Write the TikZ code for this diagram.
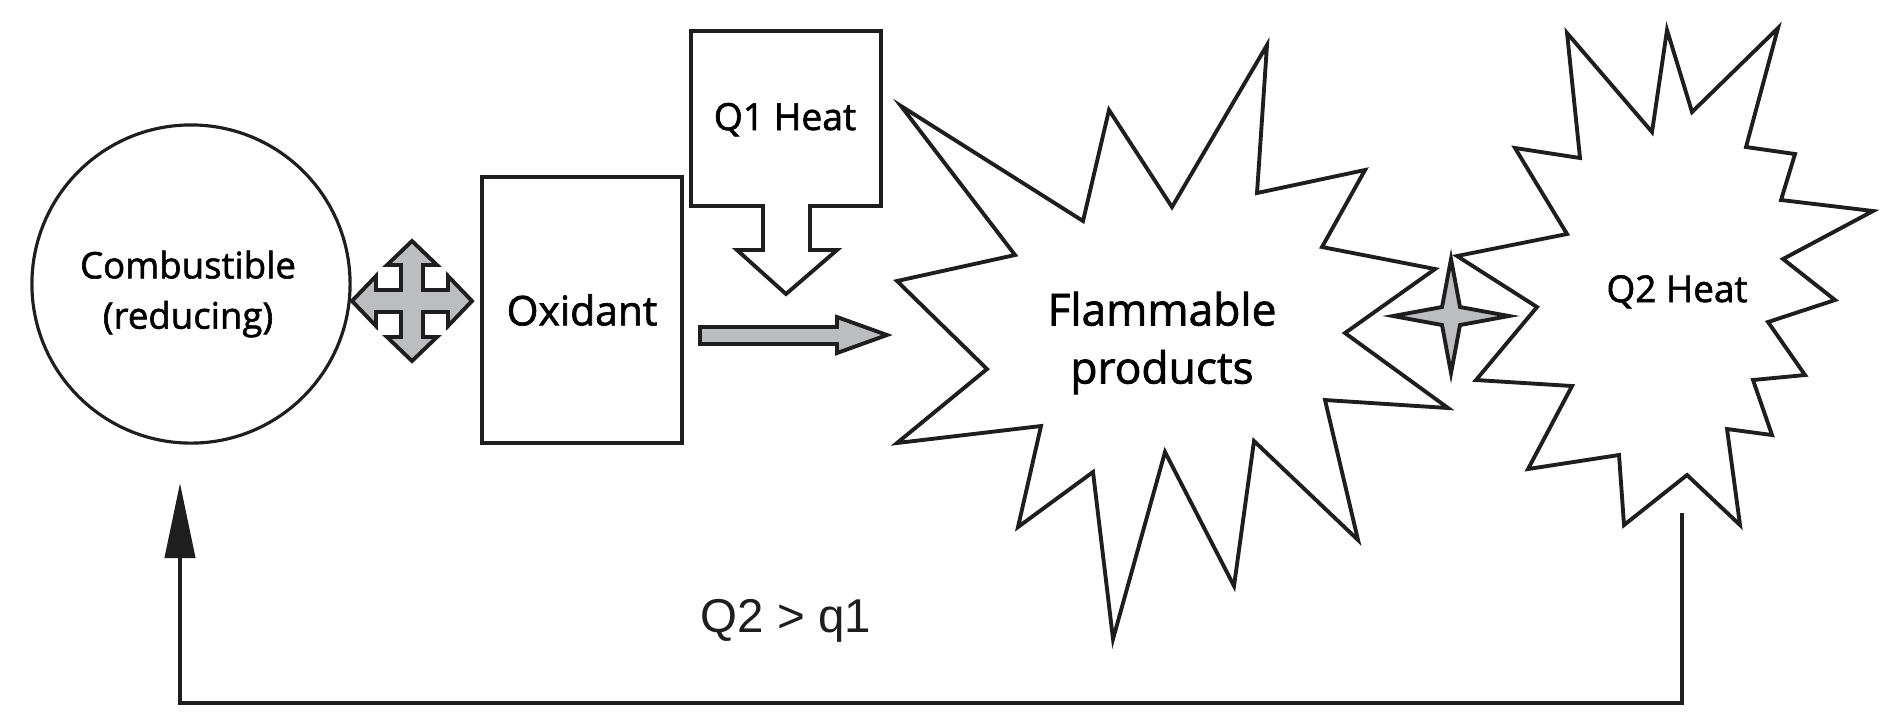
\documentclass[tikz,border=0pt]{standalone}
\usepackage{fontspec}
\setmainfont{Open Sans}
\newfontfamily\labelfont{Open Sans}[FakeBold=1.6]
\newfontfamily\ratiofont{Liberation Sans}
\definecolor{InkDark}  {RGB}{30,30,30}
\definecolor{ArrowGray}{RGB}{187,189,193}
\usetikzlibrary{arrows.meta,calc}

\begin{document}
\begin{tikzpicture}[x=0.01cm,y=-0.01cm,
    outline/.style={draw=InkDark,line width=1.1pt,line join=miter},
    blockarrow/.style={outline,fill=ArrowGray},
    burst/.style={outline,fill=white}]
  \useasboundingbox (0,0) rectangle (1889,723);

  % fuel and oxidant
  \node[draw=InkDark,line width=0.9pt,circle,minimum size=3.18cm] (comb) at (191,284) {};
  \node[font={\labelfont\fontsize{10.4}{14.3}\selectfont},align=center] (combtxt) at (188,294)
    {Combustible\\(reducing)};
  \node[outline,minimum width=2cm,minimum height=2.66cm,
        font={\labelfont\fontsize{11.6}{13}\selectfont}] (oxi) at (582,310) {Oxidant};
  \draw[blockarrow,shift={(412,301)}]
    (-60,0) -- (-36,-25) -- (-36,-11) -- (-11,-11) -- (-11,-36) -- (-25,-36) --
    (0,-60) -- (25,-36) -- (11,-36) -- (11,-11) -- (36,-11) -- (36,-25) --
    (60,0) -- (36,25) -- (36,11) -- (11,11) -- (11,36) -- (25,36) --
    (0,60) -- (-25,36) -- (-11,36) -- (-11,11) -- (-36,11) -- (-36,25) -- cycle;

  % heat Q1 with its arrow
  \draw[burst] (763,206) -- (691,206) -- (691,31) -- (881,31) -- (881,206) --
    (810,206) -- (810,250) -- (837,250) -- (786,294) -- (737,250) -- (763,250) -- cycle;
  \node[anchor=base,font={\labelfont\fontsize{10.6}{12}\selectfont}] (qone) at (785,130) {Q1 Heat};
  \draw[blockarrow] (700,327) -- (837,327) -- (837,317) -- (887,335) --
    (837,353) -- (837,344) -- (700,344) -- cycle;

  % flammable products
  \draw[burst] (901,106) -- (1083,221) -- (1109,110) -- (1172,207) -- (1267,45) --
    (1257,193) -- (1365,170) -- (1322,247) -- (1435,269) -- (1345,333) --
    (1448,408) -- (1325,400) -- (1358,540) -- (1254,441) -- (1234,586) --
    (1165,452) -- (1113,639) -- (1093,472) -- (1018,527) -- (1041,426) --
    (897,443) -- (987,369) -- (897,281) -- (1015,255) -- cycle;
  \node[font={\labelfont\fontsize{12.6}{16.5}\selectfont},align=center] (flam) at (1162,343)
    {Flammable\\products};

  % heat Q2
  \draw[burst] (1567,33) -- (1652,132) -- (1667,30) -- (1692,112) -- (1778,28) --
    (1746,147) -- (1795,154) -- (1781,200) -- (1873,211) -- (1783,259) --
    (1835,300) -- (1768,322) -- (1805,375) -- (1753,380) -- (1772,435) --
    (1727,429) -- (1740,525) -- (1687,475) -- (1624,525) -- (1619,455) --
    (1528,469) -- (1572,386) -- (1476,380) -- (1537,307) -- (1457,256) --
    (1567,234) -- (1515,148) -- (1580,158) -- cycle;
  \node[anchor=base,font={\labelfont\fontsize{10.5}{12}\selectfont}] (qtwo) at (1677,302) {Q2 Heat};
  \draw[blockarrow,shift={(1451,316)}] (-58,0) -- (-9,-9) -- (0,-57) -- (9,-9) --
    (58,0) -- (9,9) -- (0,57) -- (-9,9) -- cycle;

  % feedback loop
  \coordinate (heatout) at (1682,513);
  \coordinate (fuelin) at (180,483);
  \draw[InkDark,line width=1.2pt,-{Triangle[length=0.75cm,width=0.3cm]}]
    (heatout) -- ++(0,190) -| (fuelin);
  \node[anchor=base,text=InkDark,font={\ratiofont\fontsize{13.5}{15}\selectfont}]
    (ratio) at (786,632) {Q2 > q1};
\end{tikzpicture}
\end{document}
